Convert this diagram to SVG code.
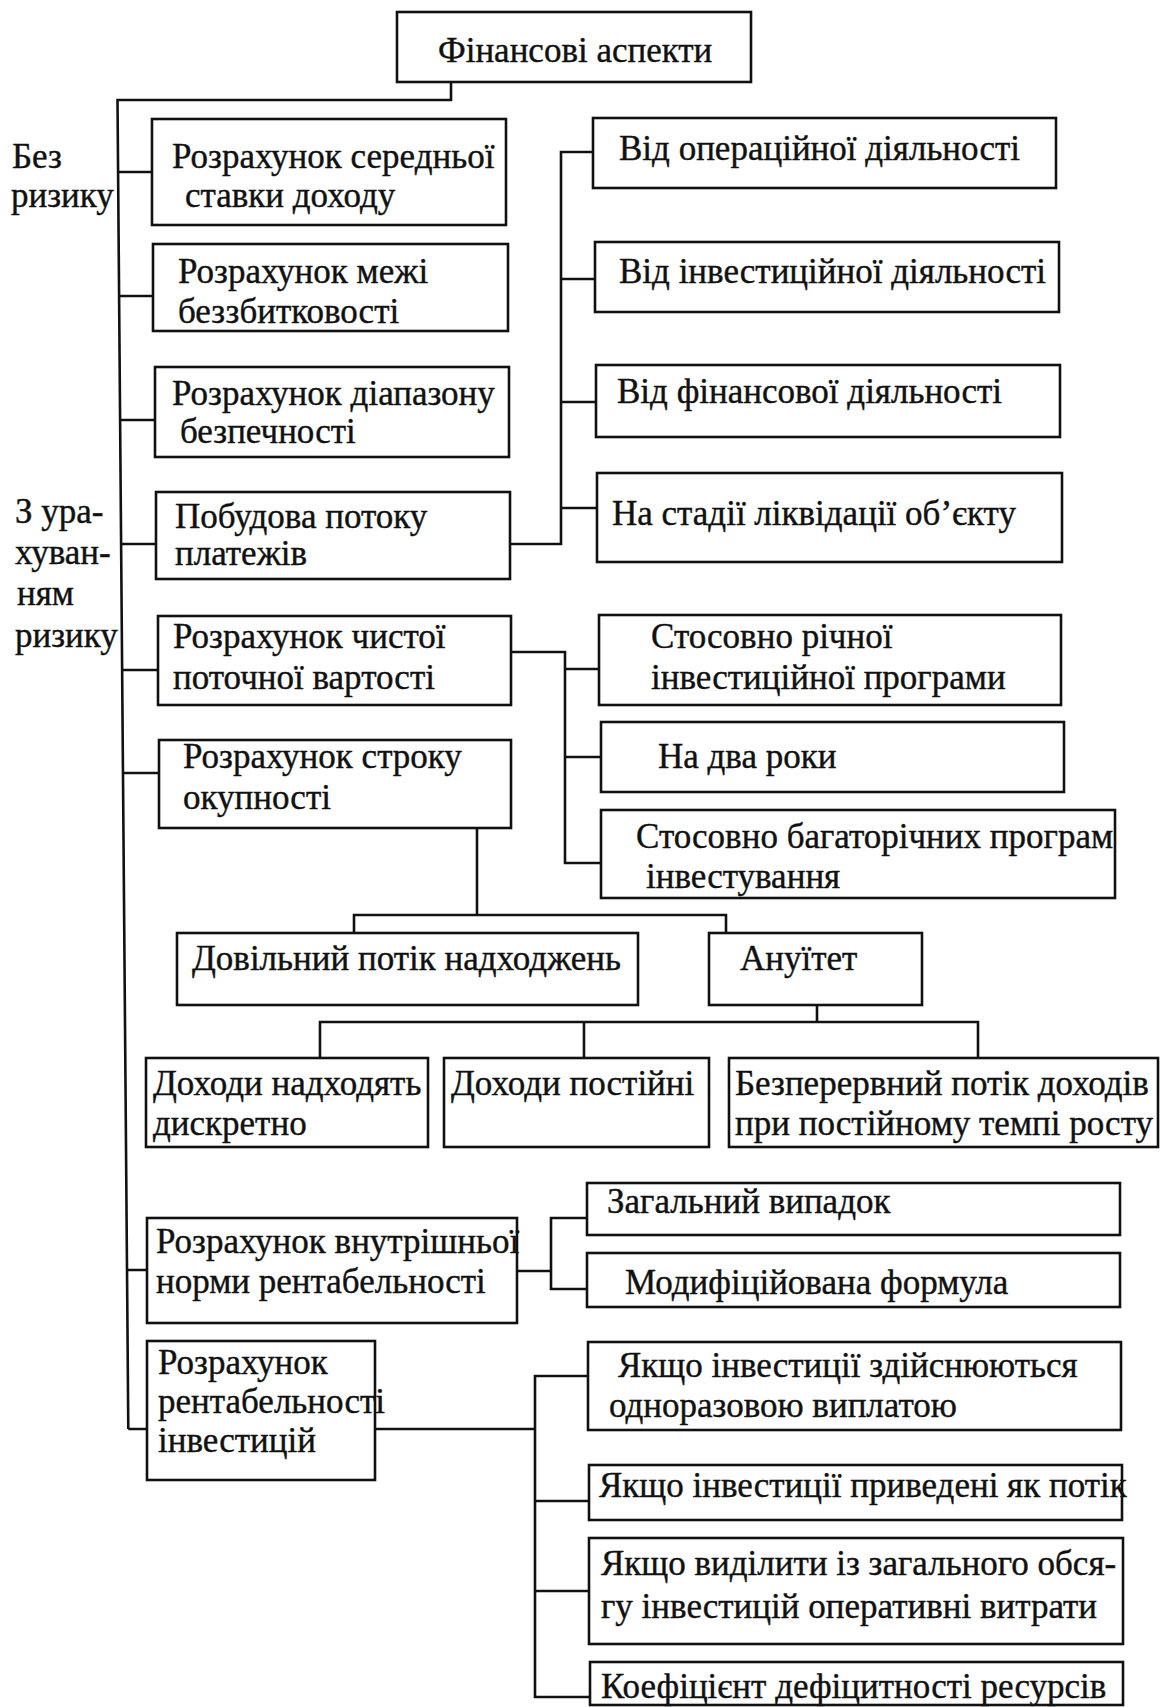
<svg xmlns="http://www.w3.org/2000/svg" width="1160" height="1707" viewBox="0 0 1160 1707">
<style>
.b{fill:#fff;stroke:#111;stroke-width:2.6}
.c{fill:none;stroke:#111;stroke-width:2.6}
text{font-family:"Liberation Serif","Times New Roman",serif;font-size:35px;fill:#111;stroke:#111;stroke-width:0.4}
</style>
<rect width="1160" height="1707" fill="#fff"/>
<g id="connectors">
<path class="c" d="M451,82V100H117.5L128.3,1429"/>
<path class="c" d="M118,172H152M119,296H153M120,420H155M120.8,544H156M121.8,670H158M122.6,773H159M126.8,1270H147M128.3,1429H147"/>
<path class="c" d="M510,544H561V152H593M561,279H595M561,402H596M561,508H597"/>
<path class="c" d="M511,652H565V863H601M565,669H599M565,757H601"/>
<path class="c" d="M477,828V915M354,933V915H726V933"/>
<path class="c" d="M817,1005V1022M320,1058V1022H978V1058M584,1022V1058"/>
<path class="c" d="M517,1271H551M587,1218H551V1289H587"/>
<path class="c" d="M375,1429H535M588,1376H535V1697H590M535,1501H589M535,1591H589"/>
</g>
<g id="labels">
<text x="12" y="168">Без</text>
<text x="11" y="207">ризику</text>
<text x="15" y="523">З ура-</text>
<text x="15" y="564">хуван-</text>
<text x="17" y="605">ням</text>
<text x="15" y="647">ризику</text>
</g>
<g id="n-root"><rect class="b" x="397" y="12" width="354" height="70"/><text x="438" y="62">Фінансові аспекти</text></g>
<g id="n-b1"><rect class="b" x="152" y="119" width="354" height="106"/><text x="172" y="168">Розрахунок середньої</text><text x="185" y="207">ставки доходу</text></g>
<g id="n-b2"><rect class="b" x="153" y="244" width="355" height="87"/><text x="178" y="283">Розрахунок межі</text><text x="178" y="323">беззбитковості</text></g>
<g id="n-b3"><rect class="b" x="155" y="367" width="354" height="90"/><text x="172" y="405">Розрахунок діапазону</text><text x="180" y="443">безпечності</text></g>
<g id="n-b4"><rect class="b" x="156" y="492" width="354" height="87"/><text x="175" y="528">Побудова потоку</text><text x="175" y="565">платежів</text></g>
<g id="n-b5"><rect class="b" x="158" y="616" width="353" height="89"/><text x="173" y="648">Розрахунок чистої</text><text x="173" y="689">поточної вартості</text></g>
<g id="n-b6"><rect class="b" x="159" y="740" width="352" height="88"/><text x="183" y="768">Розрахунок строку</text><text x="183" y="809">окупності</text></g>
<g id="n-r1"><rect class="b" x="593" y="118" width="463" height="70"/><text x="619" y="160">Від операційної діяльності</text></g>
<g id="n-r2"><rect class="b" x="595" y="242" width="464" height="70"/><text x="619" y="283">Від інвестиційної діяльності</text></g>
<g id="n-r3"><rect class="b" x="596" y="365" width="464" height="72"/><text x="617" y="403">Від фінансової діяльності</text></g>
<g id="n-r4"><rect class="b" x="597" y="473" width="465" height="89"/><text x="612" y="525">На стадії ліквідації об’єкту</text></g>
<g id="n-rr1"><rect class="b" x="599" y="615" width="462" height="90"/><text x="651" y="648">Стосовно річної</text><text x="651" y="689">інвестиційної програми</text></g>
<g id="n-rr2"><rect class="b" x="601" y="722" width="463" height="70"/><text x="658" y="768">На два роки</text></g>
<g id="n-rr3"><rect class="b" x="601" y="810" width="514" height="88"/><text x="636" y="848">Стосовно багаторічних програм</text><text x="646" y="888">інвестування</text></g>
<g id="n-dov"><rect class="b" x="177" y="933" width="461" height="72"/><text x="192" y="970">Довільний потік надходжень</text></g>
<g id="n-anu"><rect class="b" x="709" y="933" width="213" height="72"/><text x="740" y="970">Ануїтет</text></g>
<g id="n-d1"><rect class="b" x="146" y="1058" width="282" height="89"/><text x="153" y="1095">Доходи надходять</text><text x="153" y="1135">дискретно</text></g>
<g id="n-d2"><rect class="b" x="444" y="1058" width="265" height="89"/><text x="451" y="1095">Доходи постійні</text></g>
<g id="n-d3"><rect class="b" x="729" y="1058" width="429" height="89"/><text x="735" y="1095">Безперервний потік доходів</text><text x="735" y="1135">при постійному темпі росту</text></g>
<g id="n-irr"><rect class="b" x="147" y="1218" width="370" height="105"/><text x="156" y="1253">Розрахунок внутрішньої</text><text x="156" y="1293">норми рентабельності</text></g>
<g id="n-z1"><rect class="b" x="587" y="1183" width="533" height="52"/><text x="607" y="1213">Загальний випадок</text></g>
<g id="n-z2"><rect class="b" x="587" y="1253" width="533" height="54"/><text x="625" y="1294">Модифіційована формула</text></g>
<g id="n-prof"><rect class="b" x="147" y="1341" width="228" height="139"/><text x="158" y="1374">Розрахунок</text><text x="158" y="1413">рентабельності</text><text x="158" y="1452">інвестицій</text></g>
<g id="n-y1"><rect class="b" x="588" y="1342" width="533" height="88"/><text x="618" y="1377">Якщо інвестиції здійснюються</text><text x="609" y="1417">одноразовою виплатою</text></g>
<g id="n-y2"><rect class="b" x="589" y="1465" width="533" height="55"/><text x="599" y="1497">Якщо інвестиції приведені як потік</text></g>
<g id="n-y3"><rect class="b" x="589" y="1538" width="534" height="106"/><text x="601" y="1575">Якщо виділити із загального обся-</text><text x="601" y="1618">гу інвестицій оперативні витрати</text></g>
<g id="n-y4"><rect class="b" x="590" y="1662" width="533" height="43"/><text x="601" y="1698">Коефіцієнт дефіцитності ресурсів</text></g>
</svg>
